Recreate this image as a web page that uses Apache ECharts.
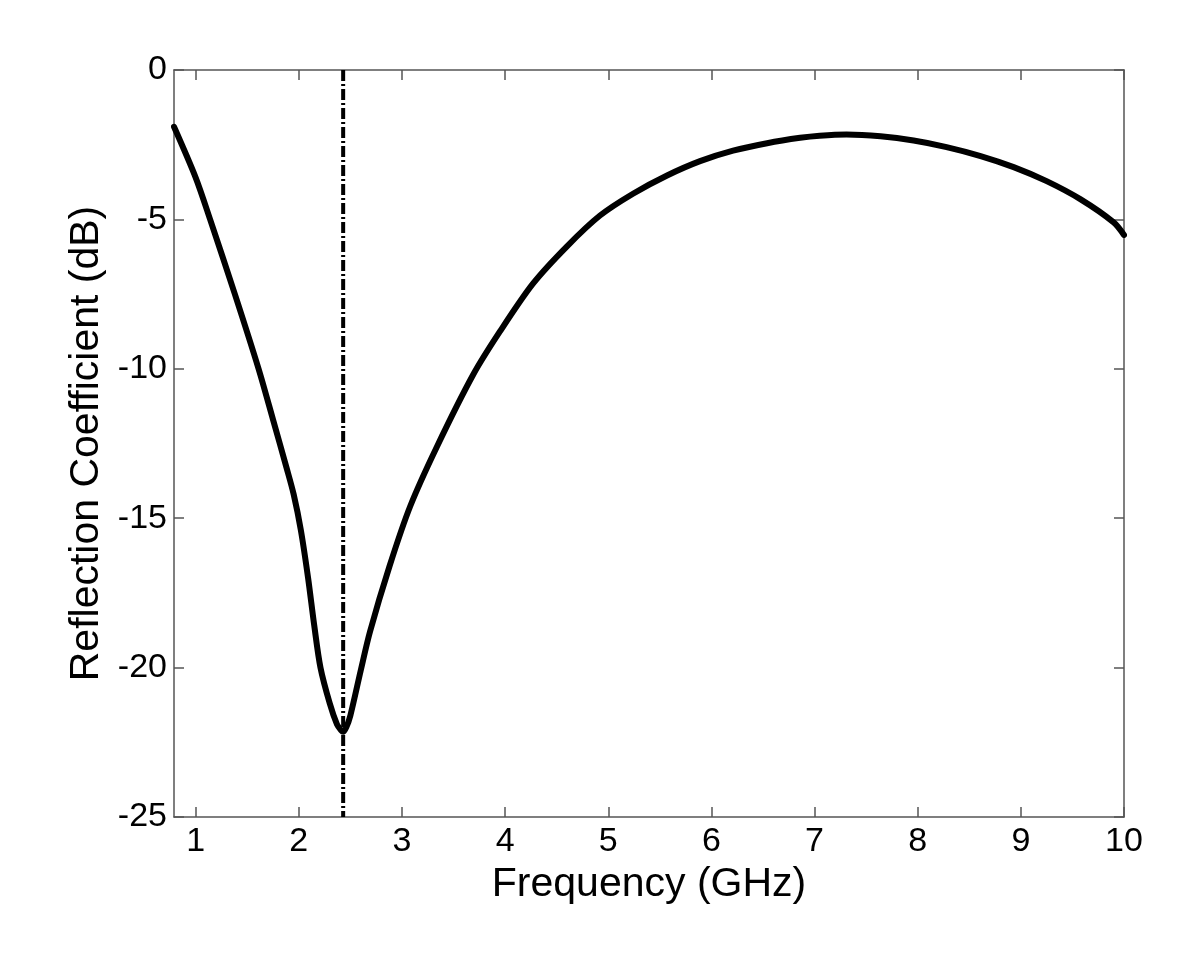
<!DOCTYPE html>
<html>
<head>
<meta charset="utf-8">
<script src="https://cdn.jsdelivr.net/npm/echarts@6/dist/echarts.min.js"></script>
<style>
  html, body { margin: 0; padding: 0; background: #fff; }
  #chart { width: 1200px; height: 970px; }
</style>
</head>
<body>
<div id="chart"></div>
<script>
// Frequency (GHz) samples
const freq = [0.79, 1.00, 1.14, 1.38, 1.61, 1.75, 1.88, 1.95, 2.02, 2.09, 2.15, 2.21, 2.30, 2.37, 2.41, 2.43, 2.46, 2.50, 2.60, 2.69, 2.88, 3.08, 3.34, 3.69, 3.95, 4.27, 4.60, 4.92, 5.24, 5.57, 5.89, 6.21, 6.54, 6.86, 7.05, 7.31, 7.64, 7.96, 8.28, 8.61, 8.93, 9.25, 9.58, 9.90, 10.00];
// Reflection coefficient (dB)
const s11 = [-1.9, -3.6, -5.0, -7.5, -10.0, -11.7, -13.3, -14.2, -15.4, -17.0, -18.6, -20.0, -21.2, -21.9, -22.1, -22.15, -22.0, -21.6, -20.1, -18.8, -16.6, -14.6, -12.6, -10.2, -8.75, -7.15, -5.9, -4.87, -4.14, -3.53, -3.05, -2.7, -2.45, -2.27, -2.2, -2.16, -2.22, -2.36, -2.58, -2.88, -3.25, -3.72, -4.33, -5.1, -5.52];
// Resonance marker frequency (GHz)
const resonanceFreq = [2.43];
// Tick labels
const xTicks = [1, 2, 3, 4, 5, 6, 7, 8, 9, 10];
const yTicks = [0, -5, -10, -15, -20, -25];
const xRange = [0.79, 10];
const yRange = [-25, 0];

const curveData = freq.map((f, i) => [f, s11[i]]);
const markerData = [[resonanceFreq[0], yRange[1]], [resonanceFreq[0], yRange[0]]];

const FONT = '"Liberation Sans", Arial, sans-serif';
const AX = '#555';

const baseX = {
  type: 'value', min: xRange[0], max: xRange[1],
  splitLine: { show: false },
  axisLine: { show: true, onZero: false, lineStyle: { color: AX, width: 1.5 } },
  axisTick: { show: true, inside: true, length: 10, customValues: xTicks, lineStyle: { color: AX, width: 1.5 } }
};
const baseY = {
  type: 'value', min: yRange[0], max: yRange[1], interval: 5,
  splitLine: { show: false },
  axisLine: { show: true, onZero: false, lineStyle: { color: AX, width: 1.5 } },
  axisTick: { show: true, inside: true, length: 10, customValues: yTicks, lineStyle: { color: AX, width: 1.5 } }
};

const chart = echarts.init(document.getElementById('chart'), null, { renderer: 'canvas' });
chart.setOption({
  animation: false,
  backgroundColor: '#fff',
  grid: { left: 174, right: 76, top: 70, bottom: 153, containLabel: false },
  xAxis: [
    Object.assign({}, baseX, {
      position: 'bottom',
      name: 'Frequency (GHz)', nameLocation: 'middle', nameGap: 42,
      nameTextStyle: { fontFamily: FONT, fontSize: 41, color: '#000' },
      axisLabel: { show: true, customValues: xTicks, fontFamily: FONT, fontSize: 34, color: '#000', margin: 8 }
    }),
    Object.assign({}, baseX, { position: 'top', axisLabel: { show: false } })
  ],
  yAxis: [
    Object.assign({}, baseY, {
      position: 'left',
      name: 'Reflection Coefficient (dB)', nameLocation: 'middle', nameGap: 62,
      nameTextStyle: { fontFamily: FONT, fontSize: 41, color: '#000' },
      axisLabel: { show: true, customValues: yTicks, fontFamily: FONT, fontSize: 34, color: '#000', margin: 7 }
    }),
    Object.assign({}, baseY, { position: 'right', axisLabel: { show: false } })
  ],
  series: [
    {
      type: 'line', data: markerData, xAxisIndex: 0, yAxisIndex: 0,
      symbol: 'none', silent: true,
      lineStyle: { color: '#000', width: 4, type: [11, 3, 2, 3] }
    },
    {
      type: 'line', data: curveData, xAxisIndex: 0, yAxisIndex: 0,
      symbol: 'none', smooth: 0.3,
      lineStyle: { color: '#000', width: 6, cap: 'round', join: 'round' }
    }
  ]
});
</script>
</body>
</html>
